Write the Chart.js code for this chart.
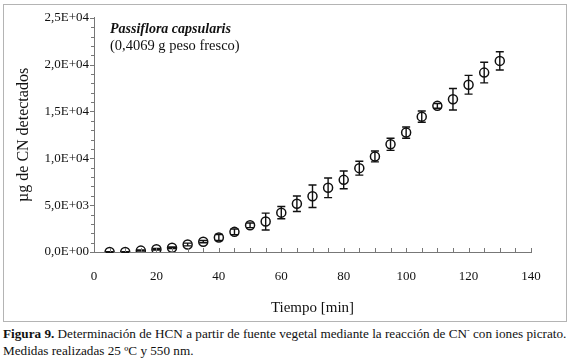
<!DOCTYPE html>
<html>
<head>
<meta charset="utf-8">
<script src="https://cdn.jsdelivr.net/npm/chart.js@4/dist/chart.umd.min.js"></script>
<style>
    body { margin: 0; background: #fff; font-family: "Liberation Serif", serif; }
    #frame { position: absolute; left: 3px; top: 4px; width: 562px; height: 316px; border: 1px solid #b4b4b4; }
    #caption { position: absolute; left: 3px; top: 322px; font-size: 13.2px; line-height: 17px; color: #111; white-space: nowrap; }
</style>
</head>
<body>
<div id="frame"><canvas id="chart" width="562" height="316"></canvas></div>
<div id="caption"><b>Figura 9.</b> Determinación de HCN a partir de fuente vegetal mediante la reacción de CN<sup style="font-size:8px">-</sup> con iones picrato.<br>Medidas realizadas 25 ºC y 550 nm.</div>
<script>
// data
const tiempo = [5, 10, 15, 20, 25, 30, 35, 40, 45, 50, 55, 60, 65, 70, 75, 80, 85, 90, 95, 100, 105, 110, 115, 120, 125, 130];
const cnDetectado = [0, 0, 150, 300, 450, 800, 1100, 1550, 2150, 2850, 3250, 4200, 5150, 5950, 6850, 7700, 8950, 10200, 11500, 12750, 14450, 15600, 16300, 17850, 19150, 20400];
const errorCN = [40, 40, 60, 80, 80, 150, 120, 320, 300, 250, 900, 650, 830, 1200, 1050, 950, 740, 580, 650, 600, 600, 250, 1150, 1000, 1100, 980];

const xTicks = [0, 20, 40, 60, 80, 100, 120, 140];
const yTicks = [0, 5000, 10000, 15000, 20000, 25000];
const xMinorStep = 5;
const yMinorStep = 1000;

const serif = '"Liberation Serif", "Times New Roman", serif';

function sciLabel(v) {
    if (v === 0) return '0,0E+00';
    const exp = Math.floor(Math.log10(v));
    const mant = (v / Math.pow(10, exp)).toFixed(1).replace('.', ',');
    return mant + 'E+' + String(exp).padStart(2, '0');
}

// error bars + tick marks + label text
const extras = {
    id: 'extras',
    beforeDatasetsDraw(chart) {
        const ctx = chart.ctx;
        const xs = chart.scales.x, ys = chart.scales.y;
        ctx.save();
        ctx.strokeStyle = '#111';
        ctx.lineWidth = 1.4;
        tiempo.forEach((t, i) => {
            const px = xs.getPixelForValue(t);
            const top = ys.getPixelForValue(cnDetectado[i] + errorCN[i]);
            const bot = ys.getPixelForValue(cnDetectado[i] - errorCN[i]);
            ctx.beginPath();
            ctx.moveTo(px, top); ctx.lineTo(px, bot);
            ctx.moveTo(px - 4, top); ctx.lineTo(px + 4, top);
            ctx.moveTo(px - 4, bot); ctx.lineTo(px + 4, bot);
            ctx.stroke();
        });
        ctx.restore();
    },
    afterDraw(chart) {
        const ctx = chart.ctx;
        const xs = chart.scales.x, ys = chart.scales.y;
        const area = chart.chartArea;
        ctx.save();
        ctx.strokeStyle = '#777';
        ctx.lineWidth = 1;
        ctx.beginPath();
        for (let v = xs.min; v <= xs.max; v += xMinorStep) {
            const px = Math.round(xs.getPixelForValue(v)) + 0.5;
            ctx.moveTo(px, area.bottom); ctx.lineTo(px, area.bottom - 4);
        }
        for (let v = ys.min; v <= ys.max; v += yMinorStep) {
            const py = Math.round(ys.getPixelForValue(v)) + 0.5;
            const len = v % 5000 === 0 ? 4 : 3;
            ctx.moveTo(area.left - len, py); ctx.lineTo(area.left, py);
        }
        ctx.stroke();

        ctx.fillStyle = '#111';
        ctx.textBaseline = 'alphabetic';
        ctx.font = 'italic bold 14px ' + serif;
        ctx.fillText('Passiflora capsularis', area.left + 16, 28);
        ctx.font = '14.5px ' + serif;
        ctx.fillText('(0,4069 g peso fresco)', area.left + 16, 45);
        ctx.restore();
    }
};

new Chart(document.getElementById('chart'), {
    type: 'scatter',
    data: {
        datasets: [{
            data: tiempo.map((t, i) => ({ x: t, y: cnDetectado[i] })),
            pointStyle: 'circle',
            pointRadius: 4.5,
            pointBorderWidth: 1.5,
            pointBorderColor: '#111',
            pointBackgroundColor: 'rgba(0,0,0,0)',
            showLine: false
        }]
    },
    options: {
        responsive: false,
        animation: false,
        layout: { padding: { top: 10, right: 35 } },
        plugins: { legend: { display: false }, tooltip: { enabled: false } },
        scales: {
            x: {
                type: 'linear',
                min: 0, max: 140,
                afterBuildTicks: s => { s.ticks = xTicks.map(v => ({ value: v })); },
                afterFit: s => { s.height = 69; },
                grid: { display: false, drawTicks: false },
                border: { display: true, color: '#777', width: 1 },
                ticks: { color: '#111', padding: 17, font: { family: serif, size: 13 } },
                title: { display: true, text: 'Tiempo [min]', color: '#111', padding: { top: 0, bottom: 4 }, font: { family: serif, size: 15 } }
            },
            y: {
                type: 'linear',
                min: 0, max: 25000,
                afterBuildTicks: s => { s.ticks = yTicks.map(v => ({ value: v })); },
                afterFit: s => { s.width = 90; },
                grid: { display: false, drawTicks: false },
                border: { display: true, color: '#777', width: 1 },
                ticks: { color: '#111', padding: 5, font: { family: serif, size: 13 }, callback: v => sciLabel(v) },
                title: { display: true, text: 'µg de CN detectados', color: '#111', padding: { top: 10, bottom: 0 }, font: { family: serif, size: 16 } }
            }
        }
    },
    plugins: [extras]
});
</script>
</body>
</html>
